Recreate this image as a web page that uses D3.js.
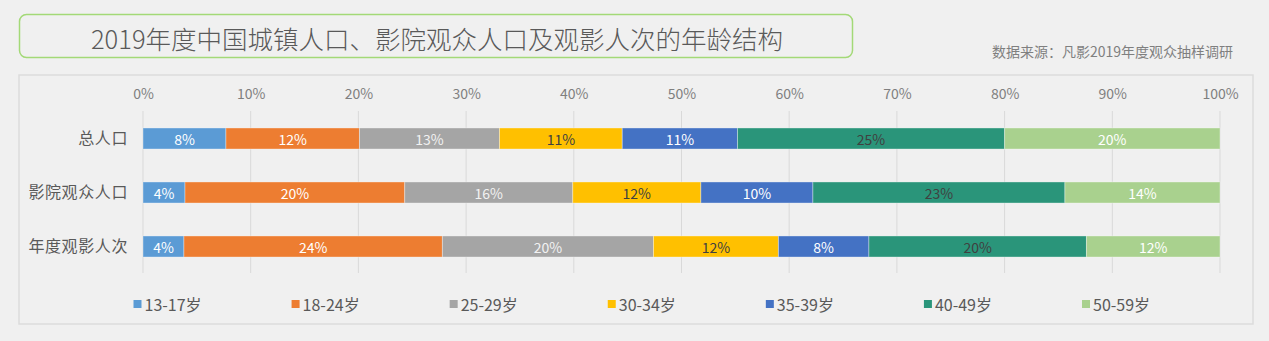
<!DOCTYPE html>
<html><head><meta charset="utf-8">
<script src="https://cdn.jsdelivr.net/npm/d3@7"></script>
<style>
html,body{margin:0;padding:0;background:#f0f0f0;}
svg{display:block;font-family:"Noto Sans CJK SC","Noto Sans",sans-serif;}
</style></head>
<body><svg id="c" width="1269" height="341"></svg>
<script>
const title = "2019年度中国城镇人口、影院观众人口及观影人次的年龄结构";
const source = "数据来源：凡影2019年度观众抽样调研";
const categories = ["总人口", "影院观众人口", "年度观影人次"];
const seriesNames = ["13-17岁", "18-24岁", "25-29岁", "30-34岁", "35-39岁", "40-49岁", "50-59岁"];
const seriesColors = ["#5b9bd5", "#ed7d31", "#a5a5a5", "#ffc000", "#4472c4", "#2a957a", "#a9d18e"];
const labelColors = ["#ffffff", "#ffffff", "#f2f2f2", "#404040", "#ffffff", "#404040", "#ffffff"];
// values per series (percent), order follows categories
const s1317 = [7.7, 3.9, 3.8];
const s1824 = [12.4, 20.4, 24.0];
const s2529 = [13.0, 15.6, 19.6];
const s3034 = [11.4, 11.9, 11.6];
const s3539 = [10.7, 10.4, 8.4];
const s4049 = [24.8, 23.4, 20.2];
const s5059 = [20.0, 14.4, 12.4];
const tickValues = [0, 10, 20, 30, 40, 50, 60, 70, 80, 90, 100];

const seriesValues = [s1317, s1824, s2529, s3034, s3539, s4049, s5059];
const rows = categories.map((c, i) => {
  const o = {cat: c};
  seriesNames.forEach((s, j) => o[s] = seriesValues[j][i]);
  return o;
});
const stacked = d3.stack().keys(seriesNames)(rows);

const svg = d3.select("#c");
// title box
svg.append("rect").attr("x", 19.5).attr("y", 14.5).attr("width", 833).attr("height", 43)
  .attr("rx", 7).attr("fill", "#f0f0f0").attr("stroke", "#a3d977").attr("stroke-width", 1.5);
svg.append("text").attr("x", 437).attr("y", 37).attr("text-anchor", "middle")
  .attr("dominant-baseline", "central").attr("font-size", 25.5).attr("fill", "#595959")
  .attr("font-weight", 300).text(title);
svg.append("text").attr("x", 1233).attr("y", 51).attr("text-anchor", "end")
  .attr("dominant-baseline", "central").attr("font-size", 14).attr("fill", "#7f7f7f")
  .text(source);

// chart frame
svg.append("rect").attr("x", 19).attr("y", 75).attr("width", 1234).attr("height", 249)
  .attr("fill", "#f0f0f0").attr("stroke", "#dcdcdc").attr("stroke-width", 1.5);

const x = d3.scaleLinear().domain([0, 100]).range([143, 1220]);
const y = d3.scaleBand().domain(categories).range([111.5, 273.5]).paddingInner(0.61).paddingOuter(0.305);

// gridlines
svg.append("g").selectAll("line").data(tickValues).join("line")
  .attr("x1", d => x(d)).attr("x2", d => x(d)).attr("y1", 111).attr("y2", 273)
  .attr("stroke", "#d9d9d9").attr("stroke-width", 1);

// top axis labels
const ax = svg.append("g").attr("transform", "translate(0,94)")
  .call(d3.axisTop(x).tickValues(tickValues).tickFormat(d => d + "%").tickSize(0).tickPadding(0));
ax.select(".domain").remove();
ax.selectAll("text").attr("font-size", 14).attr("fill", "#7f7f7f")
  .attr("font-family", "'Noto Sans CJK SC','Noto Sans',sans-serif")
  .attr("dy", "0.35em").attr("y", 0);

// left axis labels
const ay = svg.append("g").attr("transform", "translate(128,0)")
  .call(d3.axisLeft(y).tickSize(0).tickPadding(0));
ay.select(".domain").remove();
ay.selectAll("text").attr("font-size", 16).attr("fill", "#595959")
  .attr("font-family", "'Noto Sans CJK SC',sans-serif").attr("letter-spacing", 0.6);

// bars
const g = svg.append("g");
stacked.forEach((layer, j) => {
  const lg = g.append("g");
  lg.selectAll("rect").data(layer).join("rect")
    .attr("x", d => x(d[0])).attr("width", d => x(d[1]) - x(d[0]))
    .attr("y", d => y(d.data.cat)).attr("height", y.bandwidth())
    .attr("fill", seriesColors[j]).attr("stroke", "#ffffff").attr("stroke-opacity", 0.35).attr("stroke-width", 1);
  lg.selectAll("text").data(layer).join("text")
    .attr("x", d => (x(d[0]) + x(d[1])) / 2).attr("y", d => y(d.data.cat) + y.bandwidth() / 2)
    .attr("text-anchor", "middle").attr("dominant-baseline", "central")
    .attr("font-size", 14).attr("fill", labelColors[j])
    .text(d => Math.round(d.data[seriesNames[j]]) + "%");
});

// legend
const legX = d3.scalePoint().domain(seriesNames).range([133.5, 1082]);
const leg = svg.append("g").selectAll("g").data(seriesNames).join("g")
  .attr("transform", d => `translate(${legX(d)},304)`);
leg.append("rect").attr("x", 0).attr("y", -4).attr("width", 8).attr("height", 8)
  .attr("fill", (d, i) => seriesColors[i]);
leg.append("text").attr("x", 11).attr("y", 0).attr("dominant-baseline", "central")
  .attr("font-size", 16).attr("fill", "#595959").text(d => d);
</script></body></html>
